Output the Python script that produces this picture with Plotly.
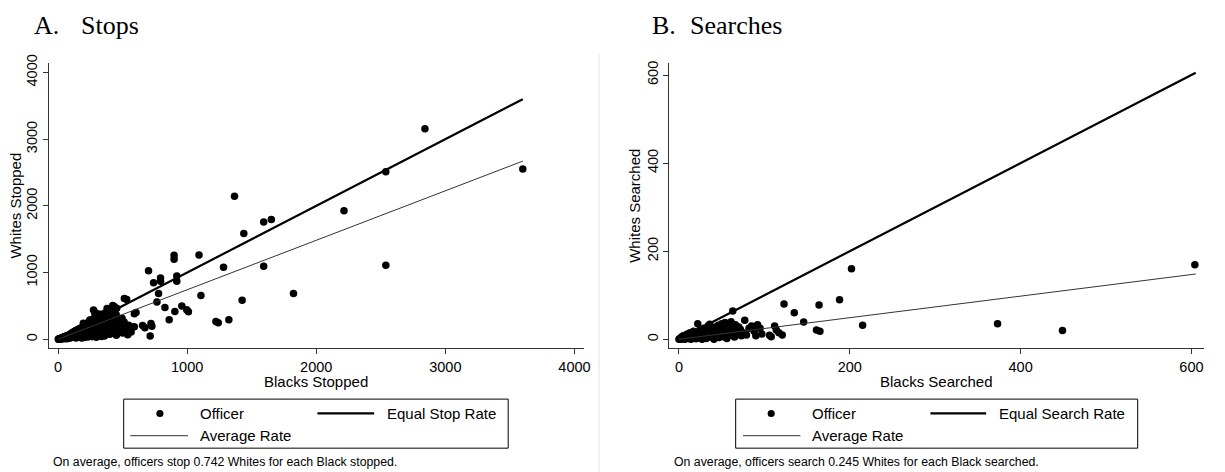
import plotly.graph_objects as go

# ---------------- data ----------------
# Panel A: officer-level stop counts (Blacks stopped, Whites stopped)
stops_black = [
    2, 5, 8, 10, 12, 15, 18, 20, 22, 25, 28, 30, 33, 35, 38, 40, 42, 45, 48, 50,
    52, 55, 58, 60, 62, 65, 68, 70, 72, 75, 78, 80, 82, 85, 88, 90, 92, 95, 98, 100,
    103, 105, 108, 110, 113, 115, 118, 120, 122, 125, 128, 130, 133, 135, 138, 140, 143, 145, 148, 150,
    153, 155, 158, 160, 163, 165, 168, 170, 173, 175, 178, 180, 183, 185, 188, 190, 193, 195, 198, 200,
    203, 205, 208, 210, 213, 215, 218, 220, 223, 225, 228, 230, 233, 235, 238, 240, 243, 245, 248, 250,
    253, 255, 258, 260, 263, 265, 268, 270, 273, 275, 278, 280, 283, 285, 288, 290, 293, 295, 298, 300,
    305, 308, 310, 315, 318, 320, 325, 328, 330, 335, 338, 340, 345, 348, 350, 355, 358, 360, 365, 368,
    370, 375, 378, 380, 385, 390, 395, 400, 405, 410, 415, 420, 424, 428, 435, 440, 445, 450, 455, 460,
    470, 480, 496, 505, 514, 522, 527, 540, 560, 575, 591, 591, 604, 532,
    655, 673, 701, 714, 720, 727, 740, 766, 779, 794, 794, 828, 861, 899, 899, 905,
    920, 920, 959, 997, 1010, 1092, 1107, 1223, 1241, 1282, 1323, 1367, 1426, 1439,
    1593, 1593, 1652, 1824, 2215, 2539, 2539, 2842, 3600,
    212, 226, 241, 256, 262, 279, 292, 303, 312, 322, 333, 342, 353, 362, 372, 383,
    392, 402, 412, 432, 442, 452, 465, 475, 488, 500, 512, 534, 548, 566,
    186, 196, 206, 232, 246, 266, 286, 296, 316, 336,
]
stops_white = [
    1, 3, 2, 6, 4, 10, 8, 3, 15, 12, 6, 20, 14, 25, 9, 30, 18, 12, 35, 22,
    40, 15, 28, 45, 8, 33, 50, 20, 38, 55, 12, 42, 60, 25, 48, 70, 18, 55, 80, 35,
    62, 90, 28, 72, 100, 45, 85, 110, 30, 65, 95, 120, 50, 80, 130, 20, 105, 60, 140, 90,
    35, 115, 150, 70, 125, 45, 160, 95, 135, 25, 170, 80, 145, 110, 55, 180, 130, 70, 160, 195,
    100, 40, 150, 210, 120, 85, 175, 230, 60, 140, 200, 100, 250, 160, 45, 215, 120, 270, 180, 80,
    230, 140, 290, 60, 200, 110, 250, 300, 160, 440, 90, 220, 410, 130, 270, 180, 60, 320, 240, 120,
    280, 200, 90, 340, 250, 150, 300, 70, 220, 360, 170, 100, 290, 380, 230, 140, 320, 50, 260, 200,
    400, 310, 120, 460, 240, 350, 180, 90, 290, 420, 220, 140, 506, 330, 490, 250, 180, 370, 466, 110,
    300, 210, 315, 150, 613, 172, 99, 69, 130, 180, 187, 382, 403, 598,
    206, 172, 1029, 50, 235, 197, 849, 559, 687, 918, 868, 476, 294, 1260, 1200, 418,
    947, 868, 500, 441, 412, 1265, 657, 265, 246, 1079, 294, 2143, 584, 1584,
    1760, 1094, 1794, 687, 1926, 2510, 1109, 3157, 2554,
    65, 190, 105, 225, 40, 185, 260, 75, 235, 125, 280, 195, 95, 245, 160, 330,
    210, 75, 270, 160, 310, 60, 205, 120, 170, 95, 260, 140, 210, 110,
    20, 240, 30, 35, 290, 40, 340, 30, 380, 40,
]

# Panel B: officer-level search counts (Blacks searched, Whites searched)
searches_black = [
    0, 1, 2, 3, 4, 5, 6, 7, 8, 9, 10, 11, 12, 13, 14, 15, 16, 17, 18, 19,
    20, 21, 22, 23, 24, 25, 26, 27, 28, 29, 30, 31, 32, 33, 34, 35, 36, 37, 38, 39,
    40, 41, 42, 43, 44, 45, 46, 47, 48, 49, 50, 51, 52, 53, 54, 55, 56, 57, 58, 59,
    60, 61, 62, 63, 64, 65, 66, 67, 68, 70, 72, 73, 75, 77, 79, 82, 85, 88, 90, 92,
    95, 97, 106, 108, 112, 114, 117, 121, 123, 135, 146, 161, 164, 165, 188, 202, 215, 373, 449, 604,
]
searches_white = [
    0, 2, 0, 5, 1, 8, 3, 0, 10, 4, 12, 2, 7, 15, 0, 9, 3, 18, 6, 11,
    1, 14, 35, 8, 20, 4, 12, 0, 16, 25, 7, 22, 2, 13, 30, 10, 34, 18, 5, 26,
    12, 0, 20, 28, 8, 15, 32, 4, 22, 11, 35, 17, 6, 25, 38, 13, 2, 30, 20, 9,
    27, 40, 15, 64, 24, 5, 33, 18, 12, 28, 22, 8, 15, 43, 10, 25, 30, 18, 8, 33,
    25, 12, 9, 6, 30, 21, 15, 10, 80, 60, 39, 21, 78, 18, 90, 160, 32, 35, 20, 169,
]

# Reference lines: equal rate (slope 1) and average rate (slope from footnote)
stop_line_x = [0, 3600]
stop_avg_rate = 0.742
search_line_x = [0, 605]
search_avg_rate = 0.245

stop_ticks = [0, 1000, 2000, 3000, 4000]
search_ticks = [0, 200, 400, 600]

# ---------------- layout helpers ----------------
W, H = 1225, 472


def px(x):
    return x / W


def py(y):
    return 1 - y / H


SANS = "Liberation Sans, Arial, sans-serif"
SERIF = "Liberation Serif, Times New Roman, serif"
AXIS_COLOR = "#333333"

fig = go.Figure()

# Panel A traces
fig.add_trace(go.Scatter(
    x=stops_black, y=stops_white, mode="markers",
    marker=dict(symbol="circle", size=7.5, color="black", line=dict(width=0)),
    xaxis="x", yaxis="y", showlegend=False, name="Officer"))
fig.add_trace(go.Scatter(
    x=stop_line_x, y=stop_line_x, mode="lines",
    line=dict(color="black", width=2.2), xaxis="x", yaxis="y",
    showlegend=False, name="Equal Stop Rate"))
fig.add_trace(go.Scatter(
    x=stop_line_x, y=[v * stop_avg_rate for v in stop_line_x], mode="lines",
    line=dict(color="#333333", width=1), xaxis="x", yaxis="y",
    showlegend=False, name="Average Rate"))

# Panel B traces
fig.add_trace(go.Scatter(
    x=searches_black, y=searches_white, mode="markers",
    marker=dict(symbol="circle", size=7.5, color="black", line=dict(width=0)),
    xaxis="x2", yaxis="y2", showlegend=False, name="Officer"))
fig.add_trace(go.Scatter(
    x=search_line_x, y=search_line_x, mode="lines",
    line=dict(color="black", width=2.2), xaxis="x2", yaxis="y2",
    showlegend=False, name="Equal Search Rate"))
fig.add_trace(go.Scatter(
    x=search_line_x, y=[v * search_avg_rate for v in search_line_x], mode="lines",
    line=dict(color="#333333", width=1), xaxis="x2", yaxis="y2",
    showlegend=False, name="Average Rate"))

axis_common = dict(
    showline=True, linecolor=AXIS_COLOR, linewidth=1,
    ticks="outside", ticklen=5, tickwidth=1, tickcolor=AXIS_COLOR,
    showgrid=False, zeroline=False,
    tickfont=dict(family=SANS, size=14.5, color="black"),
    tickmode="array",
)

y_dom = [py(346), py(55)]

fig.update_layout(
    width=W, height=H,
    margin=dict(l=0, r=0, t=0, b=0),
    paper_bgcolor="white", plot_bgcolor="white",
    showlegend=False,
    xaxis=dict(domain=[px(49.3), px(587)], range=[-69.4, 4075],
               tickvals=stop_ticks, anchor="y", **axis_common),
    yaxis=dict(domain=y_dom, range=[-137, 4143], tickvals=stop_ticks,
               tickangle=-90, anchor="x", **axis_common),
    xaxis2=dict(domain=[px(672.7), px(1210)], range=[-11.2, 614.8],
                tickvals=search_ticks, anchor="y2", **axis_common),
    yaxis2=dict(domain=y_dom, range=[-20.7, 627.4], tickvals=search_ticks,
                tickangle=-90, anchor="x2", **axis_common),
)

shapes = []
annotations = []


def text(x, y, s, size, family=SANS, xanchor="left", angle=0):
    annotations.append(dict(
        x=px(x), y=py(y), xref="paper", yref="paper", text=s, showarrow=False,
        xanchor=xanchor, yanchor="middle", textangle=angle,
        font=dict(family=family, size=size, color="black")))


def hline(x0, x1, y, width, color="black"):
    shapes.append(dict(type="line", xref="paper", yref="paper",
                       x0=px(x0), x1=px(x1), y0=py(y), y1=py(y),
                       line=dict(color=color, width=width)))


def legend_box(x0, x1, marker_x, text_x, avg_x0, avg_x1, eq_x0, eq_x1, eq_text_x, eq_label):
    y0, y1 = 397.7, 447.7
    row1, row2 = 412.3, 435
    shapes.append(dict(type="rect", xref="paper", yref="paper",
                       x0=px(x0), x1=px(x1), y0=py(y1), y1=py(y0),
                       line=dict(color="black", width=1), fillcolor="white"))
    r = 3.6
    shapes.append(dict(type="circle", xref="paper", yref="paper",
                       x0=px(marker_x - r), x1=px(marker_x + r),
                       y0=py(row1 + r), y1=py(row1 - r),
                       line=dict(width=0), fillcolor="black"))
    text(text_x, row1, "Officer", 15)
    hline(eq_x0, eq_x1, row1, 2.2)
    text(eq_text_x, row1, eq_label, 15)
    hline(avg_x0, avg_x1, row2, 1, "#333333")
    text(text_x, row2, "Average Rate", 15)


# Panel titles
text(31.7, 17, "A.", 26, SERIF)
text(79, 17, "Stops", 26, SERIF)
text(653, 17, "B.", 26, SERIF)
text(691, 17, "Searches", 26, SERIF)

# Axis titles
text(318, 380, "Blacks Stopped", 15, xanchor="center")
text(16, 200.5, "Whites Stopped", 15, xanchor="center", angle=-90)
text(941.3, 380, "Blacks Searched", 15, xanchor="center")
text(637.3, 200.5, "Whites Searched", 15, xanchor="center", angle=-90)

# Legends
legend_box(124.3, 510.7, 160.7, 199, 131, 189, 319, 376, 387.3, "Equal Stop Rate")
legend_box(739.3, 1143.3, 775, 814.3, 746.7, 804.3, 935, 991, 1001.7, "Equal Search Rate")

# Footnotes
text(51, 462.3, f"On average, officers stop {stop_avg_rate:.3f} Whites for each Black stopped.", 12.3)
text(675, 462.3, f"On average, officers search {search_avg_rate:.3f} Whites for each Black searched.", 12.3)

# Divider between the two panels
shapes.append(dict(type="line", xref="paper", yref="paper",
                   x0=px(602), x1=px(602), y0=py(472), y1=py(45),
                   line=dict(color="#e4e4e4", width=1)))

fig.update_layout(shapes=shapes, annotations=annotations)

fig.write_html("out.html")
